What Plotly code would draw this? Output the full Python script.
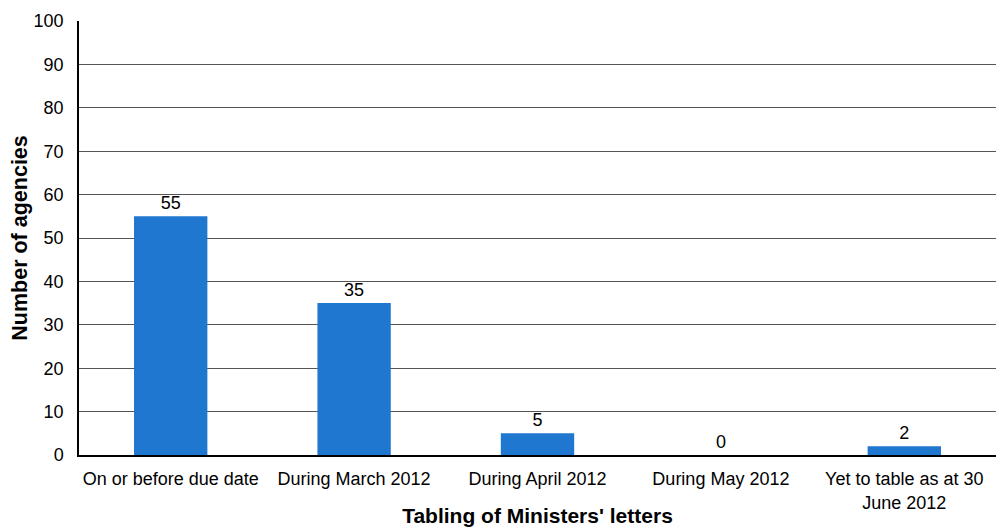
import plotly.graph_objects as go

categories = ["On or before due date", "During March 2012", "During April 2012",
              "During May 2012", "Yet to table as at 30<br>June 2012"]
values = [55, 35, 5, 0, 2]
y_ticks = [0, 10, 20, 30, 40, 50, 60, 70, 80, 90, 100]

FONT = "Liberation Sans, Arial, sans-serif"

fig = go.Figure(go.Bar(
    x=categories, y=values,
    marker=dict(color="#1f77d0", line=dict(width=0)),
    text=[str(v) for v in values], textposition="outside",
    textfont=dict(family=FONT, size=18, color="#000"),
    cliponaxis=False,
))

fig.update_layout(
    width=996, height=527,
    margin=dict(l=79, r=0, t=21, b=72, autoexpand=False),
    paper_bgcolor="white", plot_bgcolor="white",
    bargap=0.6,
    showlegend=False,
    font=dict(family=FONT, size=18, color="#000"),
    xaxis=dict(
        showline=True, linecolor="#000", linewidth=1.5,
        tickfont=dict(size=18), ticks="", ticklabelstandoff=7,
        automargin=False,
        title=dict(text="<b>Tabling of Ministers' letters</b>", font=dict(size=21)),
    ),
    yaxis=dict(
        range=[0, 100], tickvals=y_ticks,
        showline=True, linecolor="#000", linewidth=1.5,
        showgrid=True, gridcolor="#555", gridwidth=1,
        zeroline=False, ticks="", ticklabelstandoff=10,
        tickfont=dict(size=18), automargin=True,
        title=dict(text="<b>Number of agencies</b>", font=dict(size=21.5), standoff=0),
    ),
)

fig.write_html("out.html")
